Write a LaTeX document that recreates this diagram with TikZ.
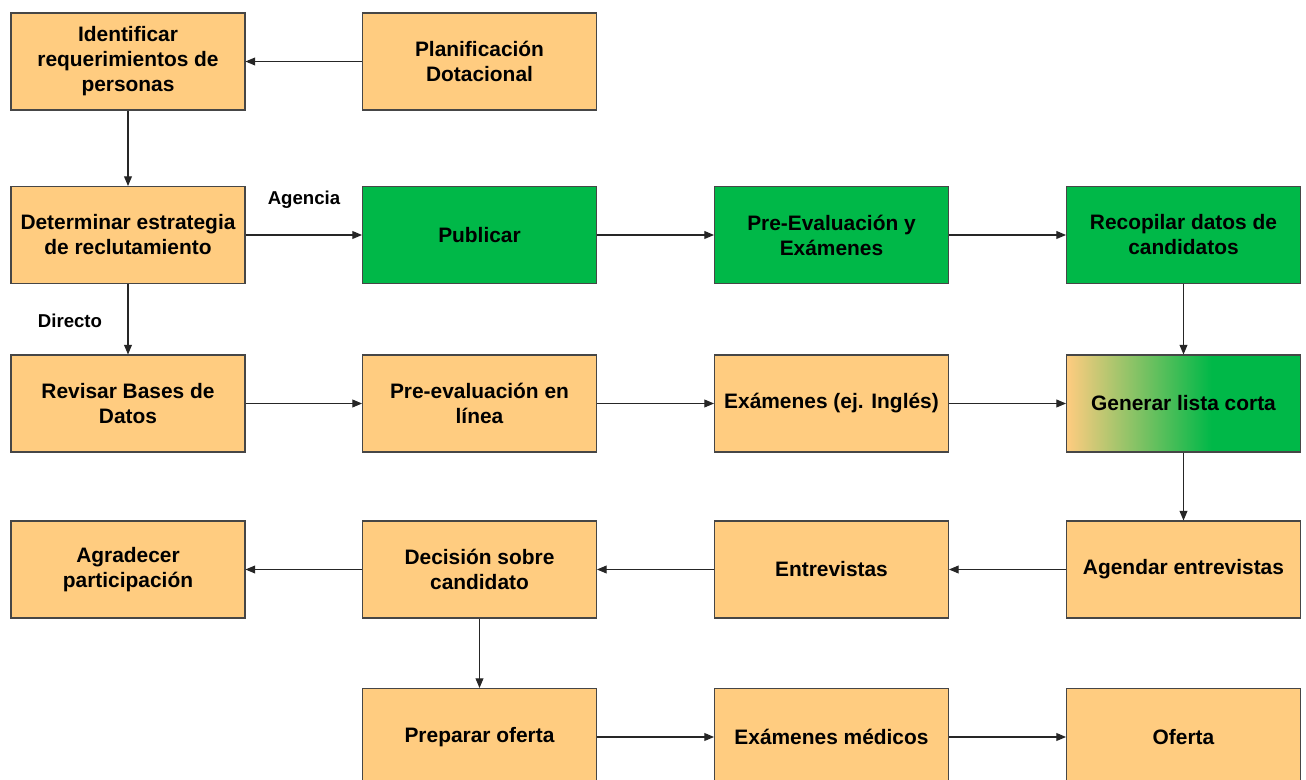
\documentclass[tikz,border=0pt]{standalone}
\usepackage{fontspec}
\setmainfont{Liberation Sans}
\usetikzlibrary{arrows.meta}
\definecolor{boxorange}{RGB}{255,204,128}
\definecolor{boxgreen}{RGB}{0,184,72}
\definecolor{edgegray}{RGB}{70,70,70}
\pgfdeclarehorizontalshading{orangegreen}{100bp}{color(0bp)=(boxorange); color(25bp)=(boxorange); color(56bp)=(boxgreen); color(100bp)=(boxgreen)}
\tikzset{
  box/.style={draw=edgegray, line width=0.6pt, fill=boxorange, align=center,
    minimum width=4.68cm, minimum height=1.94cm, inner sep=0pt,
    font=\fontsize{11.9}{14.2}\selectfont\bfseries},
  greenbox/.style={box, fill=boxgreen},
  mixbox/.style={box, shading=orangegreen},
  lbl/.style={font=\fontsize{10.6}{12}\selectfont\bfseries, inner sep=0pt},
  flow/.style={draw=black!85, line width=0.6pt, -{Triangle[length=5.5pt,width=4.5pt]}}
}
\begin{document}
\begin{tikzpicture}[x=0.02cm,y=-0.02cm]
  \useasboundingbox (0,0) rectangle (1306,780);
  % first row
  \node[box] (ident) at (128,61.5) {Identificar\\requerimientos de\\personas};
  \node[box] (plan) at (479.5,61.5) {Planificación\\Dotacional};
  % second row
  \node[box] (estrat) at (128,235) {Determinar estrategia\\de reclutamiento};
  \node[greenbox] (publicar) at (479.5,235) {Publicar};
  \node[greenbox] (preexam) at (831.5,235) {Pre-Evaluación y\\Exámenes};
  \node[greenbox] (recopilar) at (1183.5,235) {Recopilar datos de\\candidatos};
  % third row
  \node[box] (revisar) at (128,403.5) {Revisar Bases de\\Datos};
  \node[box] (preline) at (479.5,403.5) {Pre-evaluación en\\línea};
  \node[box] (ingles) at (831.5,403.5) {Exámenes (ej. Inglés)};
  \node[mixbox] (corta) at (1183.5,403.5) {Generar lista corta};
  % fourth row
  \node[box] (agradecer) at (128,569.5) {Agradecer\\participación};
  \node[box] (decision) at (479.5,569.5) {Decisión sobre\\candidato};
  \node[box] (entrev) at (831.5,569.5) {Entrevistas};
  \node[box] (agendar) at (1183.5,569.5) {Agendar entrevistas};
  % fifth row
  \node[box] (preparar) at (479.5,737) {Preparar oferta};
  \node[box] (medicos) at (831.5,737) {Exámenes médicos};
  \node[box] (oferta) at (1183.5,737) {Oferta};
  % labels
  \node[lbl] (agencia) at (304,200) {Agencia};
  \node[lbl] (directo) at (70,321) {Directo};
  % connectors
  \draw[flow] (plan) -- (ident);
  \draw[flow] (ident) -- (estrat);
  \draw[flow] (estrat) -- (publicar);
  \draw[flow] (estrat) -- (revisar);
  \draw[flow] (publicar) -- (preexam);
  \draw[flow] (preexam) -- (recopilar);
  \draw[flow] (recopilar) -- (corta);
  \draw[flow] (revisar) -- (preline);
  \draw[flow] (preline) -- (ingles);
  \draw[flow] (ingles) -- (corta);
  \draw[flow] (corta) -- (agendar);
  \draw[flow] (agendar) -- (entrev);
  \draw[flow] (entrev) -- (decision);
  \draw[flow] (decision) -- (agradecer);
  \draw[flow] (decision) -- (preparar);
  \draw[flow] (preparar) -- (medicos);
  \draw[flow] (medicos) -- (oferta);
\end{tikzpicture}
\end{document}
